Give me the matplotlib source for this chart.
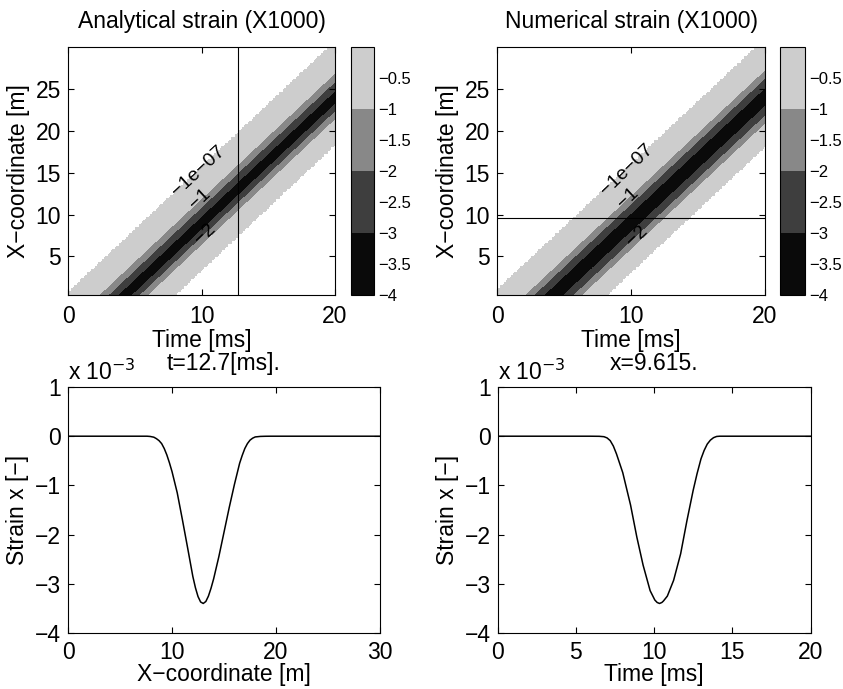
import numpy as np
import matplotlib
matplotlib.use('Agg')
import matplotlib.pyplot as plt
from matplotlib.ticker import FuncFormatter

plt.rcParams['font.family'] = ['Liberation Sans', 'DejaVu Sans']
plt.rcParams['mathtext.fontset'] = 'custom'
plt.rcParams['mathtext.rm'] = 'Liberation Sans'
plt.rcParams['font.size'] = 16.5
plt.rcParams['axes.linewidth'] = 0.8
plt.rcParams['xtick.direction'] = 'in'
plt.rcParams['ytick.direction'] = 'in'
plt.rcParams['xtick.top'] = True
plt.rcParams['ytick.right'] = True

# analytical strain along the bar at t = 12.7 ms (units of 1e-3)
x_profile = [0, 7.6, 7.9, 8.25, 8.5, 8.75, 9.0, 9.25, 9.5, 9.75, 10.0, 10.5, 11.0,
             11.5, 12.0, 12.25, 12.5, 12.75, 13.0, 13.25, 13.5, 13.75, 14.0, 14.5,
             15.0, 15.5, 16.0, 16.5, 16.75, 17.0, 17.25, 17.5, 17.75, 18.0, 18.5,
             19.0, 19.5, 30]
strain_x = [0, 0, -0.005, -0.02, -0.05, -0.09, -0.15, -0.25, -0.38, -0.54,
            -0.72, -1.15, -1.70, -2.27, -2.85, -3.08, -3.26, -3.37, -3.40, -3.36,
            -3.25, -3.09, -2.90, -2.45, -1.95, -1.45, -0.98, -0.55, -0.39, -0.25,
            -0.15, -0.08, -0.04, -0.015, -0.004, -0.001, 0, 0]

# numerical strain in time at x = 9.615 m (units of 1e-3)
t_profile = [0, 5.9, 6.2, 6.5, 6.8, 7.0, 7.2, 7.4, 7.6, 8.0, 8.5, 8.9, 9.3, 9.75,
             10.05, 10.2, 10.35, 10.5, 10.6, 10.85, 11.25, 11.7, 12.1, 12.5, 12.75,
             13.0, 13.2, 13.4, 13.6, 13.8, 14.0, 14.2, 20]
strain_t = [0, 0, -0.001, -0.002, -0.01, -0.035, -0.09, -0.2, -0.36, -0.74, -1.40,
            -2.05, -2.62, -3.14, -3.33, -3.38, -3.40, -3.38, -3.35, -3.25, -2.93,
            -2.39, -1.72, -1.10, -0.76, -0.46, -0.29, -0.16, -0.08, -0.03, -0.005,
            0, 0]

wave_speed = 1.5      # m/ms, slope of the bands
t_cut = 12.7
x_cut = 9.615

levels = [-4, -3, -2, -1, -1e-7]
band_colors = ['#0a0a0a', '#3e3e3e', '#888888', '#cdcdcd']
label_fmt = {-2: '\u22122', -1: '\u22121', -1e-7: '\u22121e\u221207'}
label_pos = [(9.7, 15.2), (9.8, 12.0), (10.1, 8.0)]
cbar_ticks = [-4, -3.5, -3, -2.5, -2, -1.5, -1, -0.5]

t_grid = np.linspace(0, 20, 201)
x_grid = np.linspace(30 / 78, 30, 78)
T, X = np.meshgrid(t_grid, x_grid)
analytical = np.interp(X - wave_speed * (T - t_cut), x_profile, strain_x)
numerical = np.interp(T - (X - x_cut) / wave_speed, t_profile, strain_t)


def minus(v, pos):
	return '{:g}'.format(v).replace('-', '\u2212')


def contour_panel(ax, cax, field, title):
	cf = ax.contourf(T, X, field, levels=levels, colors=band_colors)
	cl = ax.contour(T, X, field, levels=[-2, -1, -1e-7], colors='k', linewidths=0)
	ax.clabel(cl, fmt=label_fmt, manual=label_pos, fontsize=14, inline=False)
	ax.set_xlim(0, 20)
	ax.set_ylim(30 / 78, 30)
	ax.set_xticks([0, 10, 20])
	ax.set_yticks([5, 10, 15, 20, 25])
	ax.set_xlabel('Time [ms]', labelpad=1)
	ax.set_ylabel('X\u2212coordinate [m]', labelpad=4)
	ax.set_title(title, pad=14, fontsize=16.5)
	ax.tick_params(axis='x', pad=7, length=4)
	ax.tick_params(axis='y', pad=5, length=4)
	cb = plt.colorbar(cf, cax=cax, ticks=cbar_ticks)
	cb.outline.set_linewidth(0.8)
	cax.yaxis.set_major_formatter(FuncFormatter(minus))
	cax.tick_params(labelsize=12, length=0, pad=3)
	return cf


def line_panel(ax, xs, ys, xlim, xticks, xlabel, title):
	ax.plot(xs, ys, color='k', lw=1.1)
	ax.set_xlim(*xlim)
	ax.set_ylim(-4, 1)
	ax.set_xticks(xticks)
	ax.set_yticks([-4, -3, -2, -1, 0, 1])
	ax.yaxis.set_major_formatter(FuncFormatter(minus))
	ax.set_xlabel(xlabel, labelpad=-1)
	ax.set_ylabel('Strain x [\u2212]', labelpad=4)
	ax.set_title(title, pad=12, fontsize=16.5)
	ax.tick_params(axis='x', pad=6, length=4)
	ax.tick_params(axis='y', pad=5, length=4)
	ax.text(0, 1.01, r'x 10$^{\mathsf{-3}}$', transform=ax.transAxes,
		ha='left', va='bottom', fontsize=16.5)


fig = plt.figure(figsize=(8.43, 6.89), dpi=100)

ax1 = fig.add_axes([0.0807, 0.5718, 0.3167, 0.3599])
cax1 = fig.add_axes([0.4164, 0.5718, 0.0273, 0.3599])
contour_panel(ax1, cax1, analytical, 'Analytical strain (X1000)')
ax1.axvline(t_cut, color='k', lw=0.8)

ax2 = fig.add_axes([0.5896, 0.5718, 0.3179, 0.3599])
cax2 = fig.add_axes([0.9253, 0.5718, 0.0297, 0.3599])
contour_panel(ax2, cax2, numerical, 'Numerical strain (X1000)')
ax2.axhline(x_cut, color='k', lw=0.8)

ax3 = fig.add_axes([0.0807, 0.0813, 0.3701, 0.357])
line_panel(ax3, x_profile, strain_x, (0, 30), [0, 10, 20, 30],
	'X\u2212coordinate [m]', 't=12.7[ms].')

ax4 = fig.add_axes([0.5902, 0.0813, 0.3713, 0.357])
line_panel(ax4, t_profile, strain_t, (0, 20), [0, 5, 10, 15, 20],
	'Time [ms]', 'x=9.615.')

fig.savefig('out.png', dpi=100)
